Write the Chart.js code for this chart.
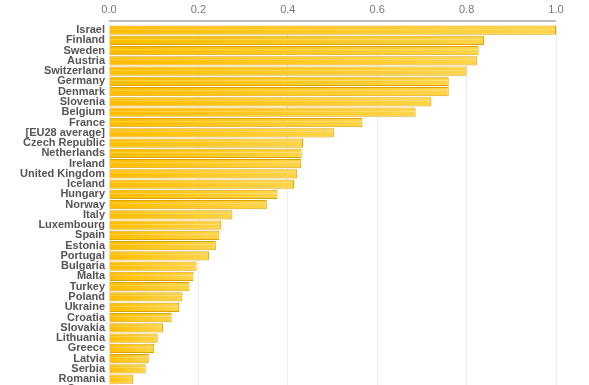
<!DOCTYPE html>
<html>
<head>
<meta charset="utf-8">
<script src="https://cdn.jsdelivr.net/npm/chart.js@4.4.1/dist/chart.umd.min.js"></script>
<style>
  html, body { margin: 0; padding: 0; background: #fff; overflow: hidden; }
  canvas { display: block; }
</style>
</head>
<body>
<canvas id="chart" width="589" height="385" style="width:589px;height:385px"></canvas>
<script>
const countries = [
  "Israel", "Finland", "Sweden", "Austria", "Switzerland", "Germany", "Denmark",
  "Slovenia", "Belgium", "France", "[EU28 average]", "Czech Republic", "Netherlands",
  "Ireland", "United Kingdom", "Iceland", "Hungary", "Norway", "Italy", "Luxembourg",
  "Spain", "Estonia", "Portugal", "Bulgaria", "Malta", "Turkey", "Poland", "Ukraine",
  "Croatia", "Slovakia", "Lithuania", "Greece", "Latvia", "Serbia", "Romania", "Cyprus"
];
const scores = [
  1.0, 0.839, 0.827, 0.823, 0.80, 0.76, 0.76,
  0.721, 0.686, 0.567, 0.503, 0.434, 0.431,
  0.430, 0.421, 0.414, 0.377, 0.353, 0.276, 0.251,
  0.247, 0.239, 0.224, 0.196, 0.189, 0.180, 0.164, 0.157,
  0.140, 0.121, 0.109, 0.101, 0.089, 0.082, 0.054, 0.022
];
const xTicks = [0, 0.2, 0.4, 0.6, 0.8, 1.0];

// gradient from left edge to the end of each bar
function barFill(ctx) {
  const chart = ctx.chart;
  const x = chart.scales.x;
  if (!x || ctx.parsed === undefined) return "#ffc000";
  const x0 = x.getPixelForValue(0);
  const x1 = x.getPixelForValue(ctx.parsed.x);
  if (!isFinite(x0) || !isFinite(x1) || x1 <= x0) return "#ffc000";
  const g = chart.ctx.createLinearGradient(x0, 0, x1, 0);
  g.addColorStop(0, "#ffbd00");
  g.addColorStop(1, "#ffd44a");
  return g;
}

// the list runs on past the bottom edge of the picture
const overflowBottom = {
  id: "overflowBottom",
  afterLayout(chart) {
    const y = chart.scales.y;
    const extra = 394.5 - y.bottom;
    y.bottom += extra;
    y.height += extra;
    chart.chartArea.bottom += extra;
    chart.chartArea.height += extra;
    y.configure();
  }
};

// axis line sits a little above the first bar
const topLine = {
  id: "topLine",
  afterDraw(chart) {
    const { ctx, chartArea } = chart;
    ctx.save();
    ctx.strokeStyle = "#a8a8a8";
    ctx.lineWidth = 1.5;
    ctx.beginPath();
    ctx.moveTo(chartArea.left, chartArea.top - 4);
    ctx.lineTo(chartArea.right, chartArea.top - 4);
    ctx.stroke();
    ctx.restore();
  }
};

// thin highlight stripe on each bar
const gloss = {
  id: "gloss",
  afterDatasetsDraw(chart) {
    const ctx = chart.ctx;
    const meta = chart.getDatasetMeta(0);
    ctx.save();
    ctx.strokeStyle = "rgba(255,255,255,0.25)";
    ctx.lineWidth = 1;
    meta.data.forEach((bar) => {
      const p = bar.getProps(["x", "y", "base", "height"], true);
      const y = Math.round(p.y - p.height / 2 + 3) + 0.5;
      ctx.beginPath();
      ctx.moveTo(p.base + 1, y);
      ctx.lineTo(p.x - 1, y);
      ctx.stroke();
    });
    ctx.restore();
  }
};

new Chart(document.getElementById("chart"), {
  type: "bar",
  data: {
    labels: countries,
    datasets: [{
      data: scores,
      backgroundColor: barFill,
      borderColor: "#dea400",
      borderWidth: 1,
      barPercentage: 0.9,
      categoryPercentage: 1.0
    }]
  },
  options: {
    indexAxis: "y",
    responsive: false,
    animation: false,
    layout: { padding: { left: 0, right: 33, top: 0, bottom: 0 } },
    plugins: { legend: { display: false }, tooltip: { enabled: false } },
    scales: {
      x: {
        position: "top",
        min: 0,
        max: 1,
        afterBuildTicks: (s) => { s.ticks = xTicks.map((v) => ({ value: v })); },
        afterFit: (s) => { s.height = 25; },
        border: { display: false },
        grid: { color: "#ececec", drawTicks: false },
        ticks: {
          padding: 8,
          color: "#777",
          font: { family: "Liberation Sans, Arial, sans-serif", size: 11 },
          callback: (v) => Number(v).toFixed(1)
        }
      },
      y: {
        afterFit: (s) => { s.width = 109; },
        border: { display: false },
        grid: { display: false, drawTicks: false },
        ticks: {
          padding: 4,
          autoSkip: false,
          color: "#555",
          font: { family: "Liberation Sans, Arial, sans-serif", size: 11, weight: "bold" }
        }
      }
    }
  },
  plugins: [overflowBottom, topLine, gloss]
});
</script>
</body>
</html>
